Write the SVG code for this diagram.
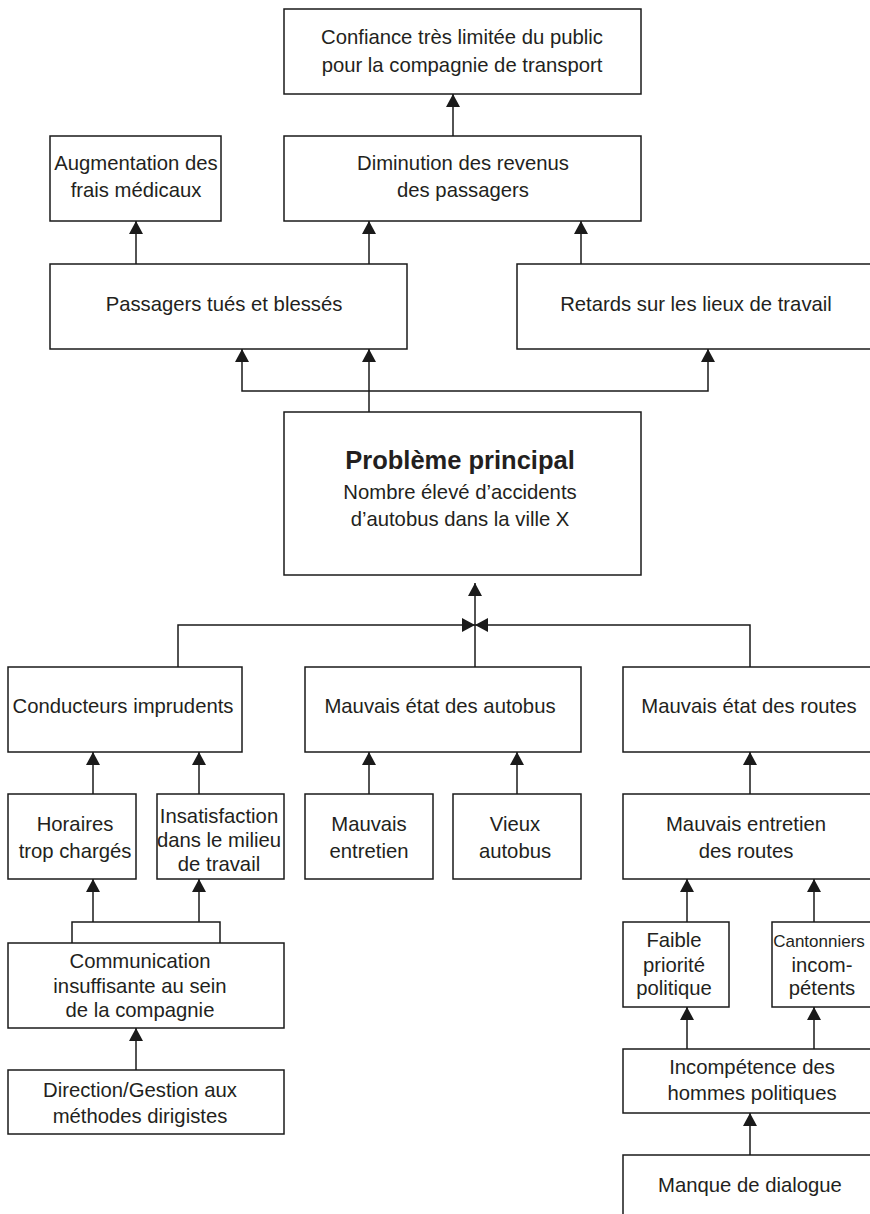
<svg xmlns="http://www.w3.org/2000/svg" width="870" height="1214" viewBox="0 0 870 1214">
<defs>
<style>
.box{fill:#fff;stroke:#1a1a1a;stroke-width:1.5}
.t{font-family:"Liberation Sans",Arial,sans-serif;font-size:20.3px;fill:#231f20;text-anchor:middle}
.b{font-weight:bold;font-size:25.5px}
.c{fill:none;stroke:#1a1a1a;stroke-width:1.5}
</style>
<marker id="ah" markerUnits="userSpaceOnUse" markerWidth="13" markerHeight="14" viewBox="0 0 13 14" refX="13" refY="7" orient="auto">
<path d="M0,0 L13,7 L0,14 z" fill="#1a1a1a"/>
</marker>
</defs>
<rect width="870" height="1214" fill="#fff"/>
<g id="connectors">
<path class="c" d="M453,136 V94" marker-end="url(#ah)"/>
<path class="c" d="M136,264 V221" marker-end="url(#ah)"/>
<path class="c" d="M369,264 V221" marker-end="url(#ah)"/>
<path class="c" d="M581,264 V221" marker-end="url(#ah)"/>
<path class="c" d="M369,412 V349" marker-end="url(#ah)"/>
<path class="c" d="M369,391 H242 V349" marker-end="url(#ah)"/>
<path class="c" d="M369,391 H708 V349" marker-end="url(#ah)"/>
<path class="c" d="M475,667 V583" marker-end="url(#ah)"/>
<path class="c" d="M178,667 V625 H475" marker-end="url(#ah)"/>
<path class="c" d="M750,667 V625 H475" marker-end="url(#ah)"/>
<path class="c" d="M93,794 V752" marker-end="url(#ah)"/>
<path class="c" d="M199,794 V752" marker-end="url(#ah)"/>
<path class="c" d="M369,794 V752" marker-end="url(#ah)"/>
<path class="c" d="M517,794 V752" marker-end="url(#ah)"/>
<path class="c" d="M750,794 V752" marker-end="url(#ah)"/>
<path class="c" d="M72,943 V922 H220 V943"/>
<path class="c" d="M93,922 V879" marker-end="url(#ah)"/>
<path class="c" d="M199,922 V879" marker-end="url(#ah)"/>
<path class="c" d="M136,1070 V1028" marker-end="url(#ah)"/>
<path class="c" d="M687,922 V879" marker-end="url(#ah)"/>
<path class="c" d="M814,922 V879" marker-end="url(#ah)"/>
<path class="c" d="M687,1049 V1007" marker-end="url(#ah)"/>
<path class="c" d="M814,1049 V1007" marker-end="url(#ah)"/>
<path class="c" d="M750,1155 V1113" marker-end="url(#ah)"/>
</g>
<g id="confiance"><rect class="box" x="284" y="9" width="357" height="85"/>
<text class="t" x="462" y="44">Confiance très limitée du public</text>
<text class="t" x="462" y="72">pour la compagnie de transport</text></g>
<g id="augmentation"><rect class="box" x="50" y="136" width="171" height="85"/>
<text class="t" x="136" y="170">Augmentation des</text>
<text class="t" x="136" y="197">frais médicaux</text></g>
<g id="diminution"><rect class="box" x="284" y="136" width="357" height="85"/>
<text class="t" x="463" y="170">Diminution des revenus</text>
<text class="t" x="463" y="197">des passagers</text></g>
<g id="passagers"><rect class="box" x="50" y="264" width="357" height="85"/>
<text class="t" x="224" y="311">Passagers tués et blessés</text></g>
<g id="retards"><rect class="box" x="517" y="264" width="360" height="85"/>
<text class="t" x="696" y="311">Retards sur les lieux de travail</text></g>
<g id="probleme"><rect class="box" x="284" y="412" width="357" height="163"/>
<text class="t b" x="460" y="469">Problème principal</text>
<text class="t" x="460" y="499">Nombre élevé d’accidents</text>
<text class="t" x="460" y="526">d’autobus dans la ville X</text></g>
<g id="conducteurs"><rect class="box" x="8" y="667" width="234" height="85"/>
<text class="t" x="123" y="713">Conducteurs imprudents</text></g>
<g id="etat-autobus"><rect class="box" x="305" y="667" width="276" height="85"/>
<text class="t" x="440" y="713">Mauvais état des autobus</text></g>
<g id="etat-routes"><rect class="box" x="623" y="667" width="254" height="85"/>
<text class="t" x="749" y="713">Mauvais état des routes</text></g>
<g id="horaires"><rect class="box" x="8" y="794" width="128" height="85"/>
<text class="t" x="75" y="831">Horaires</text>
<text class="t" x="75" y="858">trop chargés</text></g>
<g id="insatisfaction"><rect class="box" x="157" y="794" width="127" height="85"/>
<text class="t" x="219" y="823">Insatisfaction</text>
<text class="t" x="219" y="847">dans le milieu</text>
<text class="t" x="219" y="871">de travail</text></g>
<g id="entretien"><rect class="box" x="305" y="794" width="128" height="85"/>
<text class="t" x="369" y="831">Mauvais</text>
<text class="t" x="369" y="858">entretien</text></g>
<g id="vieux"><rect class="box" x="453" y="794" width="128" height="85"/>
<text class="t" x="515" y="831">Vieux</text>
<text class="t" x="515" y="858">autobus</text></g>
<g id="entretien-routes"><rect class="box" x="623" y="794" width="254" height="85"/>
<text class="t" x="746" y="831">Mauvais entretien</text>
<text class="t" x="746" y="858">des routes</text></g>
<g id="communication"><rect class="box" x="8" y="943" width="276" height="85"/>
<text class="t" x="140" y="968">Communication</text>
<text class="t" x="140" y="993">insuffisante au sein</text>
<text class="t" x="140" y="1017">de la compagnie</text></g>
<g id="direction"><rect class="box" x="8" y="1070" width="276" height="64"/>
<text class="t" x="140" y="1097">Direction/Gestion aux</text>
<text class="t" x="140" y="1123">méthodes dirigistes</text></g>
<g id="faible"><rect class="box" x="623" y="922" width="106" height="85"/>
<text class="t" x="674" y="947">Faible</text>
<text class="t" x="674" y="972">priorité</text>
<text class="t" x="674" y="995">politique</text></g>
<g id="cantonniers"><rect class="box" x="772" y="922" width="105" height="85"/>
<text class="t" x="819" y="947" style="font-size:17px">Cantonniers</text>
<text class="t" x="822" y="972">incom-</text>
<text class="t" x="822" y="995">pétents</text></g>
<g id="incompetence"><rect class="box" x="623" y="1049" width="254" height="64"/>
<text class="t" x="752" y="1074">Incompétence des</text>
<text class="t" x="752" y="1100">hommes politiques</text></g>
<g id="manque"><rect class="box" x="623" y="1155" width="254" height="70"/>
<text class="t" x="750" y="1192">Manque de dialogue</text></g>
</svg>
